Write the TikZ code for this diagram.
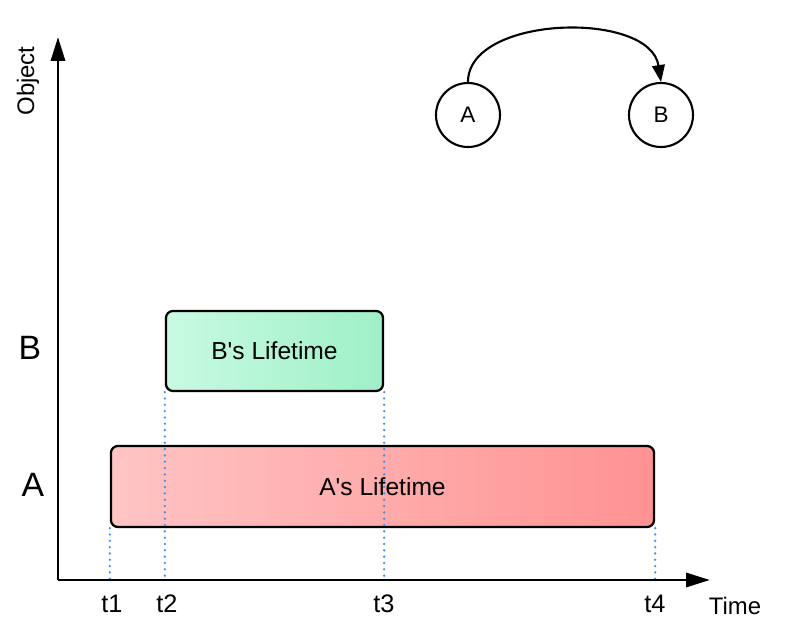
\documentclass[tikz,border=0pt]{standalone}
\usepackage{fontspec}
\setmainfont{Liberation Sans}
\usetikzlibrary{arrows.meta}
\definecolor{bleft}{RGB}{200,250,226}
\definecolor{bright}{RGB}{158,240,200}
\definecolor{aleft}{RGB}{255,196,196}
\definecolor{aright}{RGB}{255,146,146}
\definecolor{guideblue}{RGB}{70,140,225}
\begin{document}
\begin{tikzpicture}[x=0.025cm, y=-0.025cm, >={Triangle[length=17pt,width=10pt]},
  life/.style={draw, line width=1.6pt, rounded corners=5pt, font=\fontsize{17.5}{20}\selectfont},
  obj/.style={draw, circle, line width=1.5pt, minimum size=1.6cm, inner sep=0pt, font=\fontsize{16}{18}\selectfont},
  guide/.style={line width=1.8pt, line cap=round, dash pattern=on 0pt off 4.5pt, color=guideblue}]
\useasboundingbox (0,0) rectangle (791,628);

\coordinate (o) at (58,580);
\coordinate (ytop) at (58,37);
\coordinate (xend) at (710,580);

\node[life, minimum width=5.425cm, minimum height=2cm, left color=bleft, right color=bright] (bbox) at (274.5,351){B\textquotesingle s Lifetime};
\node[life, minimum width=13.575cm, minimum height=2.025cm, left color=aleft, right color=aright] (abox) at (382.5,486.5){A\textquotesingle s Lifetime};

\draw[guide] (abox.south west) -- (abox.south west |- o);
\draw[guide] (bbox.south west) -- (bbox.south west |- o);
\draw[guide] (bbox.south east) -- (bbox.south east |- o);
\draw[guide] (abox.south east) -- (abox.south east |- o);

\draw[line width=2pt, ->] (o) -- (ytop);
\draw[line width=2pt, ->] (o) -- (xend);

\node[rotate=90, font=\fontsize{17}{19}\selectfont] at (28,81){Object};
\node[font=\fontsize{17}{19}\selectfont] at (735,606){Time};
\node[font=\fontsize{24}{26}\selectfont] at (30,348){B};
\node[font=\fontsize{24}{26}\selectfont] at (33,485){A};

\node[font=\fontsize{18}{20}\selectfont] at (112,604){t1};
\node[font=\fontsize{18}{20}\selectfont] at (167,604){t2};
\node[font=\fontsize{18}{20}\selectfont] at (384,604){t3};
\node[font=\fontsize{18}{20}\selectfont] at (655,604){t4};

\node[obj] (ca) at (468,115){A};
\node[obj] (cb) at (661,115){B};
\draw[line width=1.5pt, -{Triangle[length=12pt,width=9pt]}] (ca.north) .. controls (468,15) and (650,10) .. (cb.north);
\end{tikzpicture}
\end{document}
